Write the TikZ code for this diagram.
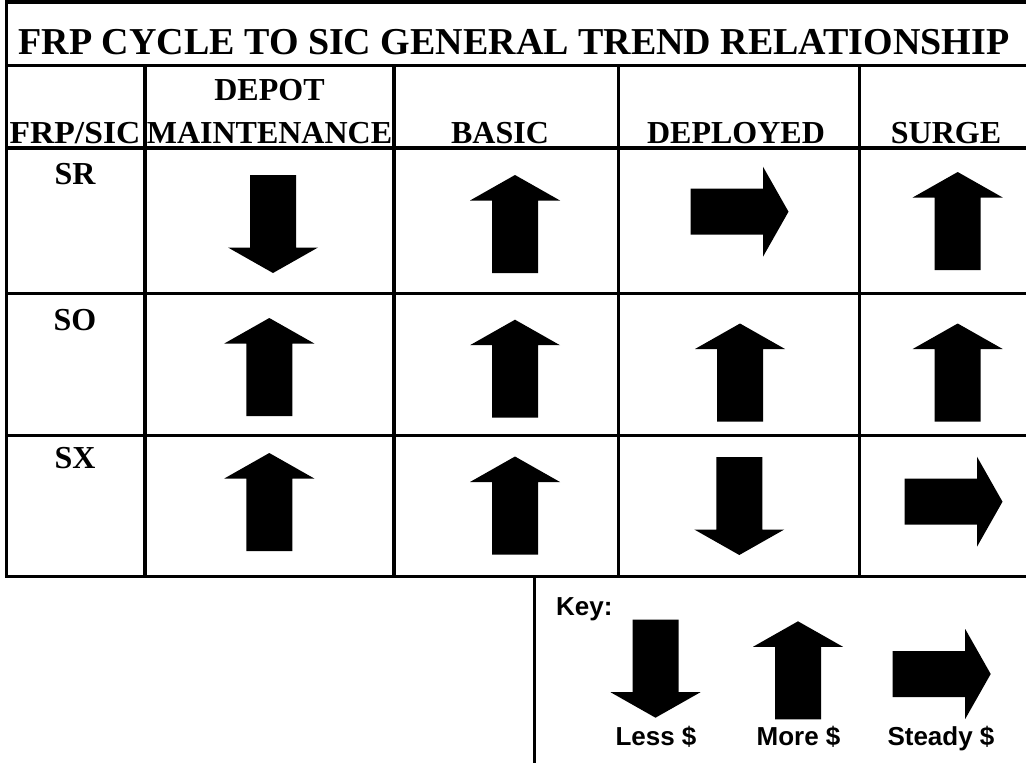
\documentclass[tikz,border=0pt]{standalone}
\usepackage{fontspec}
\usepackage{graphicx}
\setmainfont{Liberation Serif}
\newfontfamily\keyfont{Liberation Sans}
\tikzset{
  gridline/.style={line width=3.3pt, line cap=rect},
  keyline/.style={line width=2.7pt},
  ttl/.style={font=\bfseries\fontsize{38}{44}\selectfont, anchor=base, inner sep=0pt},
  hdr/.style={font=\bfseries\fontsize{32}{38}\selectfont, anchor=base, inner sep=0pt},
  keytxt/.style={font=\keyfont\bfseries\fontsize{26}{30}\selectfont, anchor=base, inner sep=0pt},
  pics/uparr/.style={code={\fill (0,-49) -- (45,-23.5) -- (23,-23.5) -- (23,49) -- (-23,49) -- (-23,-23.5) -- (-45,-23.5) -- cycle;}},
  pics/downarr/.style={code={\fill (0,49) -- (45,23.5) -- (23,23.5) -- (23,-49) -- (-23,-49) -- (-23,23.5) -- (-45,23.5) -- cycle;}},
  pics/rightarr/.style={code={\fill (49,0) -- (23.5,45) -- (23.5,23) -- (-49,23) -- (-49,-23) -- (23.5,-23) -- (23.5,-45) -- cycle;}},
}
\begin{document}
\begin{tikzpicture}[x=1pt,y=-1pt]
\useasboundingbox (0,0) rectangle (1026,763);
\clip (0,0) rectangle (1026,763);
\fill[white] (0,0) rectangle (1026,763);
% grid
\draw[gridline] (6.5,0) -- (6.5,576.5);
\draw[gridline] (6.5,2) -- (1035,2);
\foreach \yy in {65.5,148,293.5,435.5,576.5} \draw[gridline] (6.5,\yy) -- (1035,\yy);
\foreach \xx in {145,394,618.5,859.5} \draw[gridline] (\xx,65.5) -- (\xx,576.5);
\draw[keyline] (534.5,576.5) -- (534.5,770);
% title
\node[ttl] (title) at (514,54) {FRP CYCLE TO SIC GENERAL TREND RELATIONSHIP};
% header
\node[hdr] (hfrp) at (75,143) {\scalebox{1.05}[1]{FRP/SIC}};
\node[hdr] (hdep1) at (269.5,100) {DEPOT};
\node[hdr] (hdep2) at (269.5,143) {MAINTENANCE};
\node[hdr] (hbas) at (500,143) {BASIC};
\node[hdr] (hdpl) at (736,143) {DEPLOYED};
\node[hdr] (hsur) at (946,143) {SURGE};
% row labels
\node[hdr] (rsr) at (75,184.5) {SR};
\node[hdr] (rso) at (75,330) {SO};
\node[hdr] (rsx) at (75,468) {SX};
% SR row
\pic at (273,224) {downarr};
\pic at (515,224) {uparr};
\pic at (739.5,211.7) {rightarr};
\pic at (957.7,221) {uparr};
% SO row
\pic at (269.3,367) {uparr};
\pic at (515,368.7) {uparr};
\pic at (740,372.5) {uparr};
\pic at (957.7,372.5) {uparr};
% SX row
\pic at (269.3,502) {uparr};
\pic at (515,505.5) {uparr};
\pic at (739.3,506) {downarr};
\pic at (953.5,501.7) {rightarr};
% key
\node[keytxt, anchor=base west] (key) at (556,615) {Key:};
\pic at (655.5,668.7) {downarr};
\pic at (798,670.3) {uparr};
\pic at (941.7,674) {rightarr};
\node[keytxt] (kless) at (656,745) {Less \$};
\node[keytxt] (kmore) at (798.5,745) {More \$};
\node[keytxt] (ksteady) at (941,745) {Steady \$};
\end{tikzpicture}
\end{document}
